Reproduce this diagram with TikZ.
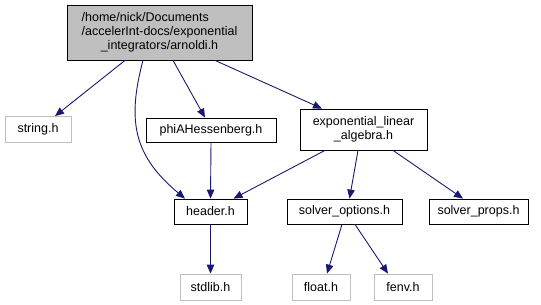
\documentclass[tikz,border=0pt]{standalone}
\usepackage{fontspec}
\setmainfont{Liberation Sans}
\usetikzlibrary{arrows.meta}
\definecolor{cedge}{HTML}{191970}
\definecolor{crootbg}{HTML}{BFBFBF}
\definecolor{cgrayborder}{HTML}{BFBFBF}
\definecolor{ctext}{HTML}{000000}

\begin{document}
\begin{tikzpicture}[
    x=1pt, y=-1pt,
    font=\fontsize{12.5}{14}\selectfont,
    inc/.style={-{Triangle[length=9pt,width=7.5pt]},line width=0.9pt,cedge},
    filebox/.style={
        draw=black, line width=0.8pt, fill=white, text=ctext,
        minimum height=25pt, inner sep=2pt, align=center,
    },
    sysbox/.style={filebox, draw=cgrayborder},
]
\useasboundingbox (0,0) rectangle (541,305);

% ============================================================
% ROOT FILE
% ============================================================
\node[filebox, fill=crootbg, minimum width=185pt, minimum height=55pt]
    (root) at (159.5,32.5) {%
    \begin{tabular}{@{}l@{}}
        /home/nick/Documents\\
        /accelerInt-docs/exponential\\
        \multicolumn{1}{@{}c@{}}{\_integrators/arnoldi.h}
    \end{tabular}};

% ============================================================
% FIRST LEVEL
% ============================================================
\node[sysbox, minimum width=66pt, minimum height=26pt] (stringh) at (38,129.5) {string.h};
\node[filebox, minimum width=130pt, minimum height=24pt] (phiah) at (211,130) {phiAHessenberg.h};
\node[filebox, minimum width=127pt, minimum height=41pt] (explinalg) at (363.5,129.5)
    {exponential\_linear\\\_algebra.h};

% ============================================================
% SECOND LEVEL
% ============================================================
\node[filebox, minimum width=73pt] (headerh) at (210.5,211.5) {header.h};
\node[filebox, minimum width=115pt] (solvopts) at (344.5,211.5) {solver\_options.h};
\node[filebox, minimum width=99pt] (solvprops) at (478.5,211.5) {solver\_props.h};

% ============================================================
% SYSTEM HEADERS
% ============================================================
\node[sysbox, minimum width=61pt, minimum height=26pt] (stdlibh) at (210.5,287) {stdlib.h};
\node[sysbox, minimum width=58pt, minimum height=26pt] (floath) at (321,287) {float.h};
\node[sysbox, minimum width=58pt, minimum height=26pt] (fenvh) at (403,287) {fenv.h};

% ============================================================
% INCLUDES
% ============================================================
\draw[inc] ([xshift=-34.5pt]root.south) -- ([xshift=17pt]stringh.north);
\draw[inc] ([xshift=-16.5pt]root.south) to[out=255,in=140,looseness=1.15]
    ([xshift=-25.5pt]headerh.north);
\draw[inc] ([xshift=13.5pt]root.south) -- ([xshift=-6pt]phiah.north);
\draw[inc] ([xshift=55.5pt]root.south) -- ([xshift=-41.5pt]explinalg.north);

\draw[inc] (phiah.south) -- (headerh.north);
\draw[inc] ([xshift=-38.5pt]explinalg.south) -- ([xshift=23pt]headerh.north);
\draw[inc] ([xshift=-5.5pt]explinalg.south) -- ([xshift=5pt]solvopts.north);
\draw[inc] ([xshift=29.5pt]explinalg.south) -- ([xshift=-15.5pt]solvprops.north);

\draw[inc] (headerh.south) -- (stdlibh.north);
\draw[inc] ([xshift=-2.5pt]solvopts.south) -- ([xshift=6pt]floath.north);
\draw[inc] ([xshift=10.5pt]solvopts.south) -- ([xshift=-15pt]fenvh.north);

\end{tikzpicture}
\end{document}
